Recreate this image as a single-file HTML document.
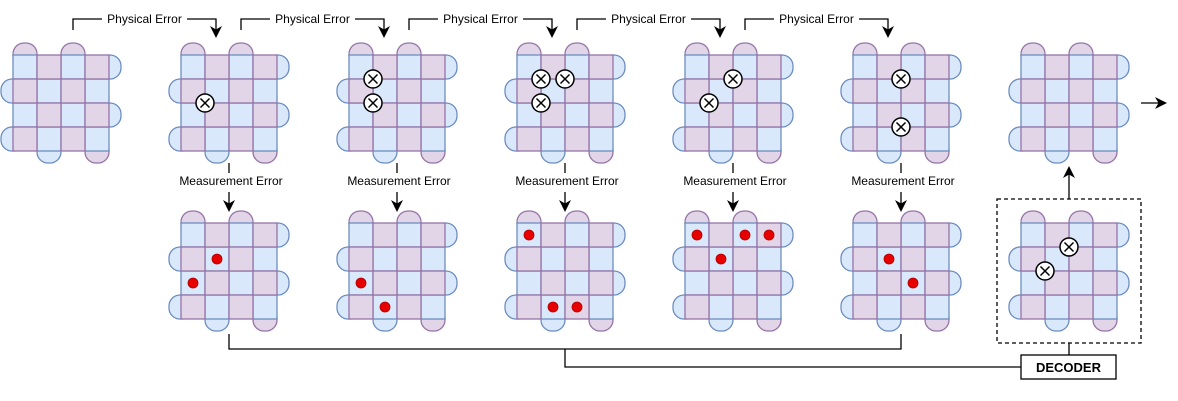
<!DOCTYPE html>
<html><head><meta charset="utf-8"><style>
html,body{margin:0;padding:0;background:#fff;}
svg{display:block;}
text{font-family:"Liberation Sans",sans-serif;font-size:12px;fill:#000;}
</style></head><body>
<svg width="1178" height="401" viewBox="0 0 1178 401" xmlns="http://www.w3.org/2000/svg">
<defs>
<marker id="ah" markerWidth="12" markerHeight="12" refX="10" refY="6" orient="auto" markerUnits="userSpaceOnUse">
<path d="M0,0 L12,6 L0,12 L3.5,6 Z" fill="#000"/></marker>
<g id="grid">
 <g stroke-width="1.3">
 <rect x="0" y="-12" width="24" height="24" rx="11" fill="#e1d5e7" stroke="#9673a6"/>
 <rect x="48" y="-12" width="24" height="24" rx="11" fill="#e1d5e7" stroke="#9673a6"/>
 <rect x="84" y="0" width="24" height="24" rx="11" fill="#dae8fc" stroke="#6c8ebf"/>
 <rect x="84" y="48" width="24" height="24" rx="11" fill="#dae8fc" stroke="#6c8ebf"/>
 <rect x="-12" y="24" width="24" height="24" rx="11" fill="#dae8fc" stroke="#6c8ebf"/>
 <rect x="-12" y="72" width="24" height="24" rx="11" fill="#dae8fc" stroke="#6c8ebf"/>
 <rect x="24" y="84" width="24" height="24" rx="11" fill="#dae8fc" stroke="#6c8ebf"/>
 <rect x="72" y="84" width="24" height="24" rx="11" fill="#e1d5e7" stroke="#9673a6"/>
 <g fill="#dae8fc" stroke="#6c8ebf">
  <rect x="0" y="0" width="24" height="24"/><rect x="48" y="0" width="24" height="24"/>
  <rect x="24" y="24" width="24" height="24"/><rect x="72" y="24" width="24" height="24"/>
  <rect x="0" y="48" width="24" height="24"/><rect x="48" y="48" width="24" height="24"/>
  <rect x="24" y="72" width="24" height="24"/><rect x="72" y="72" width="24" height="24"/>
 </g>
 <g fill="#e1d5e7" stroke="#9673a6">
  <rect x="24" y="0" width="24" height="24"/><rect x="72" y="0" width="24" height="24"/>
  <rect x="0" y="24" width="24" height="24"/><rect x="48" y="24" width="24" height="24"/>
  <rect x="24" y="48" width="24" height="24"/><rect x="72" y="48" width="24" height="24"/>
  <rect x="0" y="72" width="24" height="24"/><rect x="48" y="72" width="24" height="24"/>
 </g>
 </g>
</g>
<g id="x">
 <circle cx="0" cy="0" r="9" fill="#fff" stroke="#000" stroke-width="1.5"/>
 <path d="M-4.5,-4.5 L4.5,4.5 M4.5,-4.5 L-4.5,4.5" stroke="#000" stroke-width="1.5"/>
</g>
</defs>

<use href="#grid" x="13" y="55"/>
<use href="#grid" x="181" y="55"/>
<use href="#grid" x="349" y="55"/>
<use href="#grid" x="517" y="55"/>
<use href="#grid" x="685" y="55"/>
<use href="#grid" x="853" y="55"/>
<use href="#grid" x="1021" y="55"/>
<use href="#grid" x="181" y="223"/>
<use href="#grid" x="349" y="223"/>
<use href="#grid" x="517" y="223"/>
<use href="#grid" x="685" y="223"/>
<use href="#grid" x="853" y="223"/>
<use href="#grid" x="1021" y="223"/>

<use href="#x" x="205" y="103"/>
<use href="#x" x="373" y="79"/><use href="#x" x="373" y="103"/>
<use href="#x" x="541" y="79"/><use href="#x" x="565" y="79"/><use href="#x" x="541" y="103"/>
<use href="#x" x="733" y="79"/><use href="#x" x="709" y="103"/>
<use href="#x" x="901" y="79"/><use href="#x" x="901" y="127"/>
<use href="#x" x="1069" y="247"/><use href="#x" x="1045" y="271"/>

<g fill="#e60000" stroke="#b20000" stroke-width="0.8">
<circle cx="217" cy="259" r="5"/><circle cx="193" cy="283" r="5"/>
<circle cx="361" cy="283" r="5"/><circle cx="385" cy="307" r="5"/>
<circle cx="529" cy="235" r="5"/><circle cx="553" cy="307" r="5"/><circle cx="577" cy="307" r="5"/>
<circle cx="697" cy="235" r="5"/><circle cx="745" cy="235" r="5"/><circle cx="769" cy="235" r="5"/><circle cx="721" cy="259" r="5"/>
<circle cx="889" cy="259" r="5"/><circle cx="913" cy="283" r="5"/>
</g>

<g fill="none" stroke="#000" stroke-width="1.3">
<path d="M73,30 V19 H216 V36" marker-end="url(#ah)"/>
<path d="M241,30 V19 H384 V36" marker-end="url(#ah)"/>
<path d="M409,30 V19 H552 V36" marker-end="url(#ah)"/>
<path d="M577,30 V19 H720 V36" marker-end="url(#ah)"/>
<path d="M745,30 V19 H888 V36" marker-end="url(#ah)"/>
<path d="M229,163 V173"/><path d="M229,192 V210" marker-end="url(#ah)"/>
<path d="M397,163 V173"/><path d="M397,192 V210" marker-end="url(#ah)"/>
<path d="M565,163 V173"/><path d="M565,192 V210" marker-end="url(#ah)"/>
<path d="M733,163 V173"/><path d="M733,192 V210" marker-end="url(#ah)"/>
<path d="M901,163 V173"/><path d="M901,192 V210" marker-end="url(#ah)"/>
<path d="M229,334 V349 H901 V334"/>
<path d="M565,349 V367 H1021"/>
<path d="M1069,343 V356"/>
<path d="M1069,199 V168" marker-end="url(#ah)"/>
<path d="M1141,103 H1165" marker-end="url(#ah)"/>
<rect x="997" y="199" width="144" height="144" stroke-dasharray="4,3"/>
</g>
<g fill="#fff">
<rect x="102" y="11" width="85" height="16"/><rect x="270" y="11" width="85" height="16"/>
<rect x="438" y="11" width="85" height="16"/><rect x="606" y="11" width="85" height="16"/>
<rect x="774" y="11" width="85" height="16"/>
</g>
<text x="144.5" y="23" text-anchor="middle">Physical Error</text>
<text x="312.5" y="23" text-anchor="middle">Physical Error</text>
<text x="480.5" y="23" text-anchor="middle">Physical Error</text>
<text x="648.5" y="23" text-anchor="middle">Physical Error</text>
<text x="816.5" y="23" text-anchor="middle">Physical Error</text>
<text x="231" y="185" text-anchor="middle">Measurement Error</text>
<text x="399" y="185" text-anchor="middle">Measurement Error</text>
<text x="567" y="185" text-anchor="middle">Measurement Error</text>
<text x="735" y="185" text-anchor="middle">Measurement Error</text>
<text x="903" y="185" text-anchor="middle">Measurement Error</text>

<rect x="1021" y="355" width="95" height="24" fill="#fff" stroke="#000" stroke-width="1.3"/>
<text x="1068.5" y="372" text-anchor="middle" style="font-weight:bold;font-size:13px">DECODER</text>
</svg>
</body></html>
